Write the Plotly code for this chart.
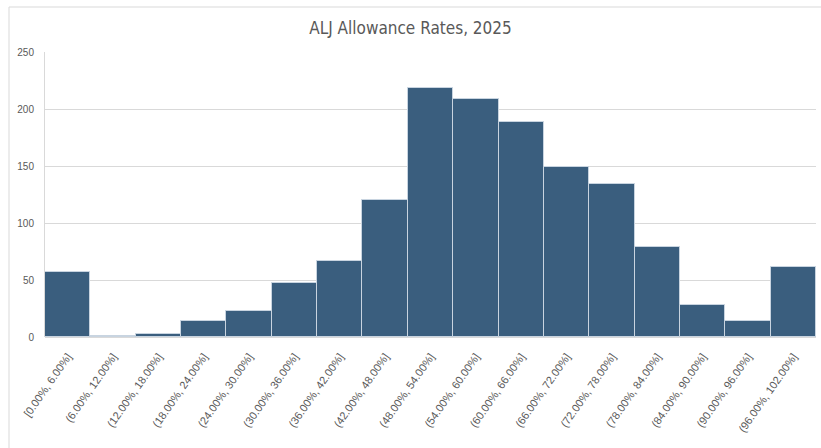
import plotly.graph_objects as go

categories = ["[0.00%, 6.00%]", "(6.00%, 12.00%]", "(12.00%, 18.00%]", "(18.00%, 24.00%]",
              "(24.00%, 30.00%]", "(30.00%, 36.00%]", "(36.00%, 42.00%]", "(42.00%, 48.00%]",
              "(48.00%, 54.00%]", "(54.00%, 60.00%]", "(60.00%, 66.00%]", "(66.00%, 72.00%]",
              "(72.00%, 78.00%]", "(78.00%, 84.00%]", "(84.00%, 90.00%]", "(90.00%, 96.00%]",
              "(96.00%, 102.00%]"]
counts = [57, 1, 3, 14, 23, 47, 67, 120, 218, 209, 189, 149, 134, 79, 28, 14, 61]
y_ticks = [0, 50, 100, 150, 200, 250]

W, H = 821, 448
L, R, T, B = 45, 5, 52, 111

fig = go.Figure(go.Bar(
    x=categories, y=counts,
    marker=dict(color="#3a5e7e", line=dict(color="#c8d4e0", width=1)),
))

pw = W - L - R
ph = H - T - B
fig.add_shape(type="rect", xref="paper", yref="paper",
              x0=(9 - L) / pw, x1=(W + 20 - L) / pw,
              y0=-(H + 20 - T - ph) / ph, y1=(H - B - 7) / ph,
              line=dict(color="#d9d9d9", width=1), fillcolor="rgba(0,0,0,0)", layer="below")

fig.update_layout(
    width=W, height=H,
    margin=dict(l=L, r=R, t=T, b=B),
    paper_bgcolor="white", plot_bgcolor="white",
    bargap=0,
    showlegend=False,
    font=dict(family="Liberation Sans, Arial, sans-serif", color="#595959"),
    title=dict(text="ALJ Allowance Rates, 2025", x=0.5, xanchor="center", y=1 - 28 / H, yanchor="middle",
               font=dict(size=17, color="#595959",
                         family="DejaVu Sans Condensed, Liberation Sans Narrow, Liberation Sans, sans-serif")),
    xaxis=dict(type="category", tickangle=-55, tickfont=dict(size=11, color="#595959"),
               showgrid=False, showline=False, ticks="", zeroline=False, ticklabelstandoff=10),
    yaxis=dict(range=[0, 250], tickvals=y_ticks, tickfont=dict(size=10, color="#595959"),
               showgrid=True, gridcolor="#d9d9d9", gridwidth=1, zeroline=True, zerolinecolor="#d9d9d9",
               showline=True, linecolor="#d9d9d9", linewidth=1, ticks="", ticklen=0,
               ticklabelstandoff=8),
)

fig.write_html("out.html")
